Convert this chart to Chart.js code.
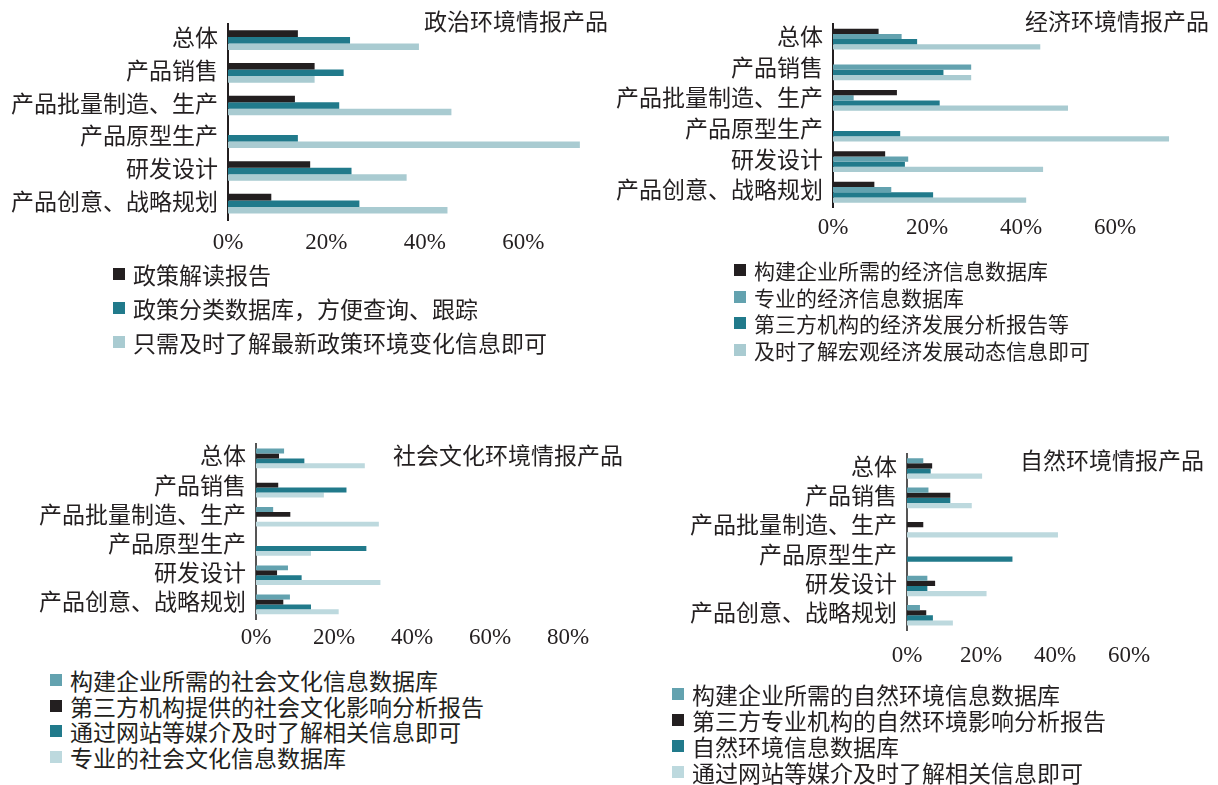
<!DOCTYPE html>
<html>
<head>
<meta charset="utf-8">
<script src="https://cdn.jsdelivr.net/npm/chart.js@4"></script>
<style>
  body { margin: 0; background: #fff; }
  #wrap { position: relative; width: 1218px; height: 785px; font-family: 'Liberation Serif', 'Noto Sans CJK SC', serif; color: #231f20; }
  .box { position: absolute; }
  .title { position: absolute; font-size: 23px; white-space: nowrap; line-height: 1; }
  .legend { position: absolute; white-space: nowrap; }
  .legend div { display: flex; align-items: center; }
  .legend span.sw { display: inline-block; width: 12px; height: 12px; margin-right: 8px; }
</style>
</head>
<body>
<div id="wrap"></div>
<script>
var categories = ['总体', '产品销售', '产品批量制造、生产', '产品原型生产', '研发设计', '产品创意、战略规划'];

// 政治环境情报产品
var polLabels = ['政策解读报告', '政策分类数据库，方便查询、跟踪', '只需及时了解最新政策环境变化信息即可'];
var polReport = [14.2, 17.6, 13.6, 0, 16.7, 8.8];
var polDatabase = [24.8, 23.5, 22.6, 14.2, 25.1, 26.7];
var polNews = [38.8, 17.6, 45.4, 71.5, 36.3, 44.6];

// 经济环境情报产品
var ecoLabels = ['构建企业所需的经济信息数据库', '专业的经济信息数据库', '第三方机构的经济发展分析报告等', '及时了解宏观经济发展动态信息即可'];
var ecoOwnDb = [9.7, 0, 13.6, 0, 11.1, 8.8];
var ecoProDb = [14.6, 29.4, 4.4, 0, 16.0, 12.4];
var ecoReport = [17.9, 23.5, 22.7, 14.3, 15.3, 21.3];
var ecoNews = [44.1, 29.4, 50.0, 71.5, 44.7, 41.1];

// 社会文化环境情报产品
var socLabels = ['构建企业所需的社会文化信息数据库', '第三方机构提供的社会文化影响分析报告', '通过网站等媒介及时了解相关信息即可', '专业的社会文化信息数据库'];
var socOwnDb = [7.2, 0, 4.4, 0, 8.2, 8.7];
var socReport = [5.9, 5.7, 8.8, 0, 5.4, 7.0];
var socWeb = [12.4, 23.2, 0, 28.3, 11.7, 14.1];
var socProDb = [27.9, 17.4, 31.5, 14.1, 31.9, 21.2];

// 自然环境情报产品
var natLabels = ['构建企业所需的自然环境信息数据库', '第三方专业机构的自然环境影响分析报告', '自然环境信息数据库', '通过网站等媒介及时了解相关信息即可'];
var natOwnDb = [4.4, 5.8, 0, 0, 5.5, 3.5];
var natReport = [6.8, 11.7, 4.4, 0, 7.6, 5.2];
var natDb = [6.4, 11.7, 0, 28.5, 5.5, 7.0];
var natWeb = [20.3, 17.5, 40.8, 0, 21.5, 12.4];

var BLACK = '#231f20', TEAL = '#217a8b', MID = '#63a2af', LIGHT = '#a9cbd1', PALE = '#bdd9de';
var FONT = "'Liberation Serif', 'Noto Sans CJK SC', serif";

var panels = [
  { left: 0, top: 0, w: 605, h: 270, axisW: 228, padTop: 20, padRight: 3, xH: 50, tickPad: 9, max: 76, lastLabel: 60, catPct: 0.6,
    labels: polLabels, series: [polReport, polDatabase, polNews], colors: [BLACK, TEAL, LIGHT], lineColor: '#231f20',
    title: '政治环境情报产品', tx: 424, ty: 11,
    legend: { x: 113, y: 257, rowH: 34, size: 23 } },
  { left: 605, top: 0, w: 610, h: 260, axisW: 228, padTop: 20, padRight: 6, xH: 52.4, tickPad: 7, max: 80, lastLabel: 60, catPct: 0.68,
    labels: ecoLabels, series: [ecoOwnDb, ecoProDb, ecoReport, ecoNews], colors: [BLACK, MID, TEAL, LIGHT], lineColor: '#231f20',
    title: '经济环境情报产品', tx: 1025, ty: 11,
    legend: { x: 734, y: 257, rowH: 26.5, size: 21 } },
  { left: 0, top: 420, w: 640, h: 240, axisW: 256, padTop: 19, padRight: 72, xH: 41, tickPad: 5, max: 80, lastLabel: 80, catPct: 0.67,
    labels: socLabels, series: [socOwnDb, socReport, socWeb, socProDb], colors: [MID, BLACK, TEAL, PALE], lineColor: '#555',
    title: '社会文化环境情报产品', tx: 393, ty: 445,
    legend: { x: 50, y: 667, rowH: 25.7, size: 23 } },
  { left: 640, top: 430, w: 578, h: 250, axisW: 267, padTop: 19, padRight: 15, xH: 50, tickPad: 12, max: 80, lastLabel: 60, catPct: 0.7,
    labels: natLabels, series: [natOwnDb, natReport, natDb, natWeb], colors: [MID, BLACK, TEAL, PALE], lineColor: '#555',
    title: '自然环境情报产品', tx: 1020, ty: 450,
    legend: { x: 672, y: 681, rowH: 26, size: 23 } }
];

var wrap = document.getElementById('wrap');

panels.forEach(function (p) {
  var box = document.createElement('div');
  box.className = 'box';
  box.style.left = p.left + 'px';
  box.style.top = p.top + 'px';
  box.style.width = p.w + 'px';
  box.style.height = p.h + 'px';
  var cv = document.createElement('canvas');
  box.appendChild(cv);
  wrap.appendChild(box);

  var t = document.createElement('div');
  t.className = 'title';
  t.style.left = p.tx + 'px';
  t.style.top = p.ty + 'px';
  t.textContent = p.title;
  wrap.appendChild(t);

  var lg = document.createElement('div');
  lg.className = 'legend';
  lg.style.left = p.legend.x + 'px';
  lg.style.top = p.legend.y + 'px';
  lg.style.fontSize = p.legend.size + 'px';
  p.labels.forEach(function (lab, i) {
    var row = document.createElement('div');
    row.style.height = p.legend.rowH + 'px';
    var sw = document.createElement('span');
    sw.className = 'sw';
    sw.style.background = p.colors[i];
    var tx = document.createElement('span');
    tx.textContent = lab;
    row.appendChild(sw);
    row.appendChild(tx);
    lg.appendChild(row);
  });
  wrap.appendChild(lg);

  new Chart(cv, {
    type: 'bar',
    data: {
      labels: categories,
      datasets: p.series.map(function (s, i) {
        return {
          label: p.labels[i],
          data: s,
          backgroundColor: p.colors[i],
          categoryPercentage: p.catPct,
          barPercentage: 1.0
        };
      })
    },
    options: {
      indexAxis: 'y',
      responsive: true,
      maintainAspectRatio: false,
      animation: false,
      layout: { padding: { top: p.padTop, right: p.padRight, left: 0, bottom: 0 } },
      plugins: { legend: { display: false }, tooltip: { enabled: false } },
      scales: {
        x: {
          min: 0,
          max: p.max,
          grid: { display: false, drawTicks: false },
          border: { display: false },
          ticks: {
            stepSize: 20,
            autoSkip: false,
            padding: p.tickPad,
            color: '#231f20',
            font: { family: FONT, size: 23 },
            maxRotation: 0,
            callback: function (v) {
              return (v % 20 === 0 && v <= p.lastLabel) ? v + '%' : null;
            }
          },
          afterFit: function (s) { s.height = p.xH; }
        },
        y: {
          grid: { display: false, drawTicks: false },
          border: { display: true, color: p.lineColor, width: 2 },
          ticks: {
            autoSkip: false,
            padding: 10,
            color: '#231f20',
            font: { family: FONT, size: 23 }
          },
          afterFit: function (s) { s.width = p.axisW; }
        }
      }
    }
  });
});
</script>
</body>
</html>
